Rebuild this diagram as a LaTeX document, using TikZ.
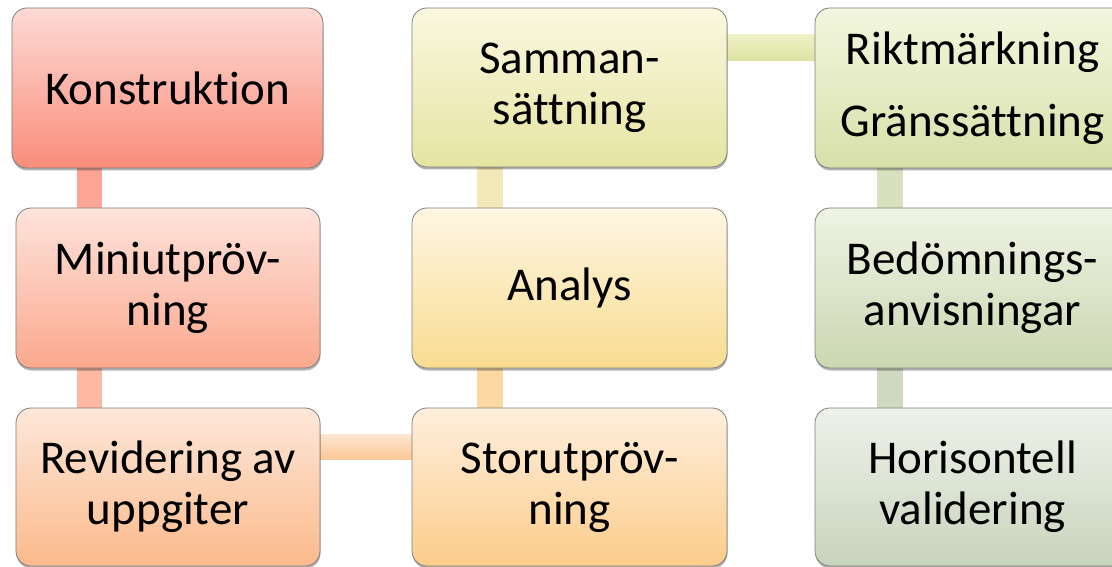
\documentclass[tikz,border=0pt]{standalone}
\usepackage{fontspec}
\setmainfont{Carlito}[Ligatures={NoCommon}]
\usetikzlibrary{calc,shadows}
\pgfdeclarelayer{background}
\pgfsetlayers{background,main}

\definecolor{kT}{HTML}{FDDAD5} \definecolor{kB}{HTML}{F98D7A}
\definecolor{mT}{HTML}{FDE3DB} \definecolor{mB}{HTML}{FBA88D}
\definecolor{rT}{HTML}{FDE7D9} \definecolor{rB}{HTML}{FBBA8C}
\definecolor{sT}{HTML}{FEEFDD} \definecolor{sB}{HTML}{FCCC8A}
\definecolor{aT}{HTML}{FEF6E3} \definecolor{aB}{HTML}{F8DC90}
\definecolor{saT}{HTML}{FAF8DF} \definecolor{saB}{HTML}{E5E4A2}
\definecolor{rgT}{HTML}{F3F6DE} \definecolor{rgB}{HTML}{D7E0A9}
\definecolor{bT}{HTML}{EFF3E4} \definecolor{bB}{HTML}{CBD7B1}
\definecolor{hT}{HTML}{EEF2EA} \definecolor{hB}{HTML}{C8D4BC}
\definecolor{boxline}{HTML}{7F7F7F}
\definecolor{barKM}{HTML}{FCA596}
\definecolor{barMR}{HTML}{FDB8A3}
\definecolor{barRSt}{HTML}{FDE5CF}
\definecolor{barRSb}{HTML}{FCC797}
\definecolor{barSA}{HTML}{FCD9A3}
\definecolor{barASa}{HTML}{F3E8B8}
\definecolor{barTopT}{HTML}{EFF1C8}
\definecolor{barTopB}{HTML}{DCE3A2}
\definecolor{barRgB}{HTML}{D8E0BE}
\definecolor{barBH}{HTML}{CFD9C0}

\tikzset{
  box/.style={draw=boxline, line width=0.8bp, rounded corners=15bp,
    inner sep=0pt, align=center, minimum height=160bp,
    font=\fontsize{47bp}{51bp}\selectfont,
    drop shadow={shadow xshift=0.5bp, shadow yshift=-2.5bp, opacity=0.3, fill=black}},
}

\begin{document}
\begin{tikzpicture}[x=1bp,y=-1bp]
\path[use as bounding box] (0,0) rectangle (1112,567);
\clip (0,0) rectangle (1112,567);

\node[box, minimum width=311bp, top color=kT, bottom color=kB] (k) at (167.5,88) {Konstruktion};
\node[box, minimum width=304bp, top color=mT, bottom color=mB] (m) at (168,288) {Miniutpröv-\\ning};
\node[box, minimum width=304bp, minimum height=158bp, top color=rT, bottom color=rB] (r) at (168,487) {Revidering av\\uppgiter};
\node[box, minimum width=315bp, minimum height=158bp, top color=sT, bottom color=sB] (s) at (569.5,487) {Storutpröv-\\ning};
\node[box, minimum width=315bp, top color=aT, bottom color=aB] (a) at (569.5,288) {Analys};
\node[box, minimum width=315bp, minimum height=159bp, top color=saT, bottom color=saB] (sa) at (569.5,87.5) {Samman-\\sättning};
\node[box, minimum width=315bp, top color=rgT, bottom color=rgB] (rg) at (972.5,88) {Riktmärkning\\[21bp]Gränssättning};
\node[box, minimum width=315bp, top color=bT, bottom color=bB] (b) at (972.5,288) {Bedömnings-\\anvisningar};
\node[box, minimum width=315bp, minimum height=158bp, top color=hT, bottom color=hB] (h) at (972.5,487) {Horisontell\\validering};

\begin{pgfonlayer}{background}
\fill[barKM] ($(m.north west)+(61,-45)$) rectangle ($(m.north west)+(86,3)$);
\fill[barMR] ($(m.south west)+(61,-3)$) rectangle ($(r.north west)+(86,3)$);
\shade[top color=barRSt, bottom color=barRSb] ($(r.north east)+(-3,27)$) rectangle ($(s.north west)+(3,52)$);
\fill[barSA] ($(a.south west)+(65,-3)$) rectangle ($(s.north west)+(91,3)$);
\fill[barASa] ($(sa.south west)+(65,-3)$) rectangle ($(a.north west)+(91,3)$);
\shade[top color=barTopT, bottom color=barTopB] ($(sa.north east)+(-3,27)$) rectangle ($(rg.north west)+(3,53)$);
\fill[barRgB] ($(rg.south west)+(62,-3)$) rectangle ($(b.north west)+(88,3)$);
\fill[barBH] ($(b.south west)+(62,-3)$) rectangle ($(h.north west)+(88,3)$);
\end{pgfonlayer}
\end{tikzpicture}
\end{document}
